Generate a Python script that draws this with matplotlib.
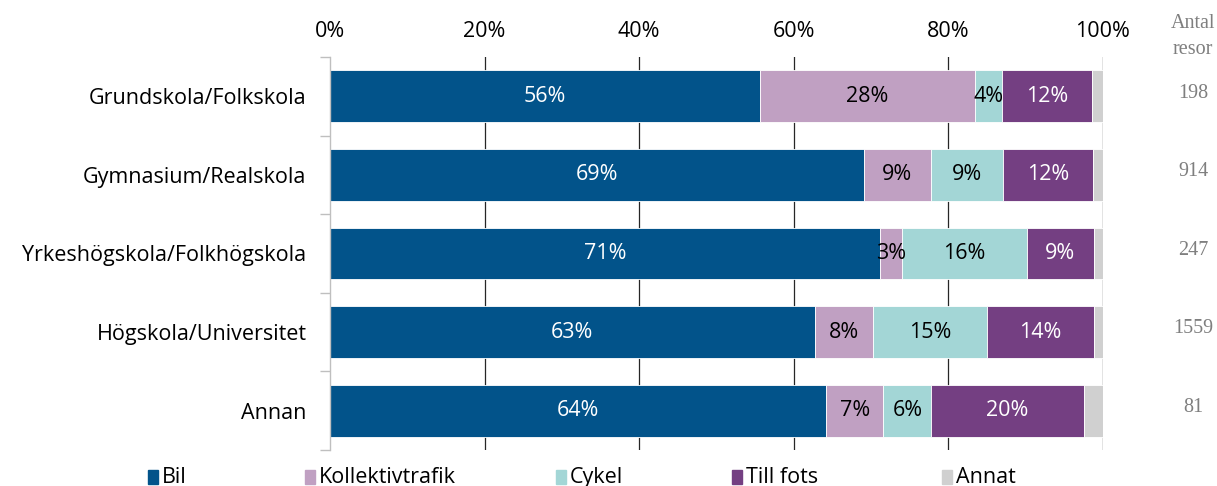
import matplotlib.pyplot as plt
import matplotlib.patches as mpatches
import numpy as np

categories = ["Grundskola/Folkskola", "Gymnasium/Realskola",
              "Yrkeshögskola/Folkhögskola", "Högskola/Universitet", "Annan"]
series_names = ["Bil", "Kollektivtrafik", "Cykel", "Till fots", "Annat"]
bil = [55.6, 69.1, 71.2, 62.7, 64.2]
kollektiv = [27.8, 8.6, 2.8, 7.6, 7.4]
cykel = [3.6, 9.4, 16.2, 14.7, 6.2]
till_fots = [11.6, 11.6, 8.6, 13.8, 19.7]
annat = [1.4, 1.3, 1.2, 1.2, 2.5]
antal_resor = [198, 914, 247, 1559, 81]

colors = ["#02538A", "#C0A0C2", "#A3D6D6", "#743F82", "#D0D0D0"]
label_colors = ["white", "black", "black", "white", None]

plt.rcParams['font.family'] = ['Open Sans', 'DejaVu Sans']
FS = 15.5

fig = plt.figure(figsize=(12.17, 4.86), dpi=100)
ax = fig.add_axes([0.2712, 0.0741, 0.9063 - 0.2712, 0.8827 - 0.0741])

y = np.arange(len(categories))
left = np.zeros(len(categories))
for name, vals, col, lcol in zip(series_names,
                                 [bil, kollektiv, cykel, till_fots, annat],
                                 colors, label_colors):
    vals = np.array(vals)
    ax.barh(y, vals, left=left, height=0.66, color=col,
            edgecolor="white", linewidth=0.6, zorder=3)
    if lcol is not None:
        for yi, (l, v) in enumerate(zip(left, vals)):
            ax.text(l + v / 2, yi, f"{v:.0f}%", ha="center", va="center",
                    color=lcol, fontsize=FS, zorder=4)
    left += vals

ax.set_xlim(0, 100)
ax.set_ylim(len(categories) - 0.5, -0.5)
ax.set_xticks(np.arange(0, 101, 20))
ax.set_xticklabels([f"{t}%" for t in range(0, 101, 20)])
ax.xaxis.tick_top()
ax.tick_params(axis="x", length=0, labelsize=FS, pad=11)
ax.set_yticks(y)
ax.set_yticklabels(categories)
ax.tick_params(axis="y", which="major", length=0, labelsize=FS, pad=17)
ax.set_yticks(np.arange(-0.5, len(categories)), minor=True)
ax.tick_params(axis="y", which="minor", length=7, color="#BFBFBF", width=1)

for t in range(20, 101, 20):
    ax.axvline(t, color="#262626", linewidth=0.9, zorder=1)

for s in ["top", "right", "bottom"]:
    ax.spines[s].set_visible(False)
ax.spines["left"].set_color("#BFBFBF")
ax.spines["left"].set_linewidth(1)
ax.spines["left"].set_zorder(5)

# right column: Antal resor
fig.text(1193 / 1217, 1 - 24 / 486, "Antal", ha="center", va="center",
         family="Liberation Serif", fontsize=14.5, color="#7F7F7F")
fig.text(1193 / 1217, 1 - 50 / 486, "resor", ha="center", va="center",
         family="Liberation Serif", fontsize=14.5, color="#7F7F7F")
for yi, n in enumerate(antal_resor):
    ax.text(1.1165, yi - 0.04, str(n), transform=ax.get_yaxis_transform(),
            ha="center", va="center", family="Liberation Serif",
            fontsize=14.5, color="#7F7F7F", clip_on=False)

# legend along the bottom
leg_x = [148, 305, 556, 732, 942]
for x, name, col in zip(leg_x, series_names, colors):
    fig.patches.append(mpatches.Rectangle((x / 1217, 1 - 484 / 486), 10 / 1217, 14 / 486,
                                          transform=fig.transFigure, color=col))
    fig.text((x + 14) / 1217, 1 - 477 / 486, name, ha="left", va="center",
             fontsize=FS, color="black")

fig.savefig("out.png", dpi=100)
